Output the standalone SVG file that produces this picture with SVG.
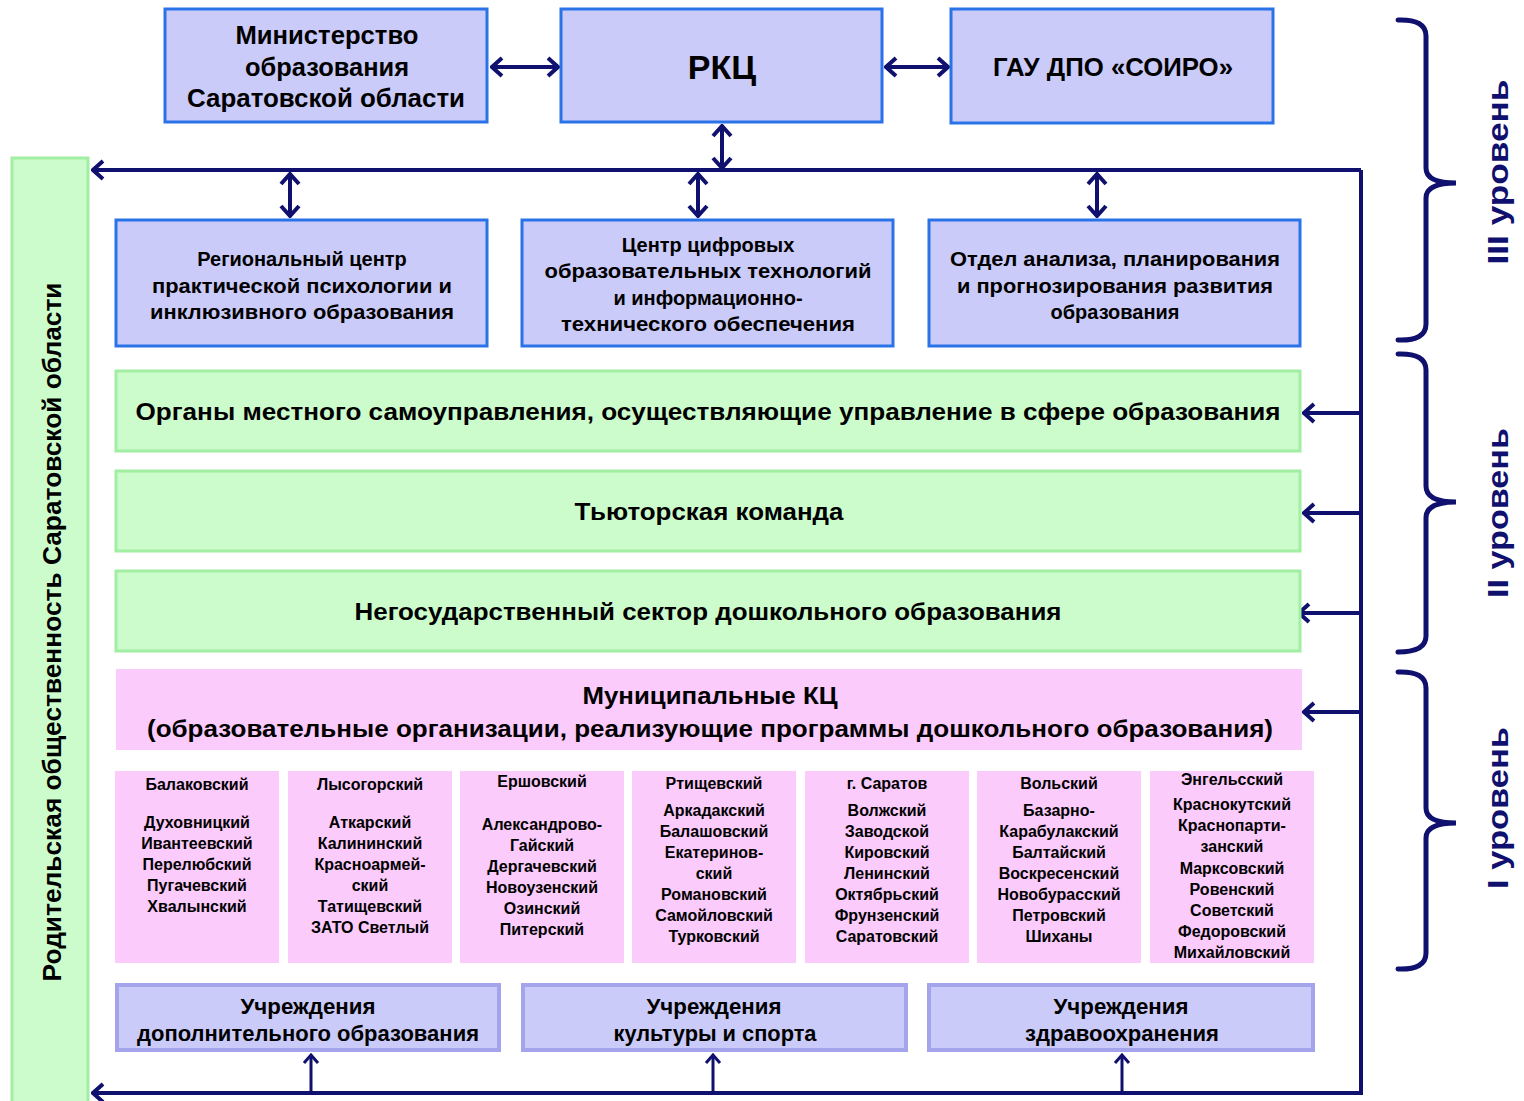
<svg xmlns="http://www.w3.org/2000/svg" width="1524" height="1101" viewBox="0 0 1524 1101">
<defs>
<style>
text{font-family:"Liberation Sans",Arial,sans-serif;font-weight:bold;fill:#000;text-anchor:middle;dominant-baseline:central}
.bb{fill:#cbcbf9;stroke:#2a72e8;stroke-width:3}
.lb{fill:#cbcbf9;stroke:#a4a4ec;stroke-width:4}
.gb{fill:#ccfccc;stroke:#a2eea2;stroke-width:3}
.pb{fill:#fbcbfb}
.ln{stroke:#10106e;stroke-width:4;fill:none}
.tn{stroke:#10106e;stroke-width:3;fill:none}
.br{stroke:#10106e;stroke-width:5;fill:none;stroke-linecap:round}
.t26{font-size:26px}
.t24{font-size:24px}
.t20{font-size:20px}
.t22{font-size:22px}
.t23{font-size:23px}
.d{font-size:16px}
.lv{fill:#10106e;font-size:30px}
</style>
<marker id="ah" viewBox="0 0 14 22" refX="12" refY="11" markerWidth="14" markerHeight="22" markerUnits="userSpaceOnUse" orient="auto-start-reverse">
<path d="M2,2 L12,11 L2,20" fill="none" stroke="#10106e" stroke-width="4" stroke-linejoin="miter"/>
</marker>
<marker id="as" viewBox="0 0 12 18" refX="10" refY="9" markerWidth="12" markerHeight="18" markerUnits="userSpaceOnUse" orient="auto-start-reverse">
<path d="M2,2 L10,9 L2,16" fill="none" stroke="#10106e" stroke-width="3"/>
</marker>
</defs>

<g id="parents">
<rect x="12" y="158" width="76" height="950" class="gb"/>
<text x="52" y="632" font-size="25" transform="rotate(-90 52 632)" textLength="699" lengthAdjust="spacingAndGlyphs">Родительская общественность Саратовской области</text>
</g>

<g id="connectors">
<path class="ln" d="M1361,170 L93,170" marker-end="url(#ah)"/>
<path class="ln" d="M1361,170 L1361,1093 L93,1093" marker-end="url(#ah)"/>
<line class="ln" x1="492" y1="67" x2="558" y2="67" marker-start="url(#ah)" marker-end="url(#ah)"/>
<line class="ln" x1="886" y1="67" x2="948" y2="67" marker-start="url(#ah)" marker-end="url(#ah)"/>
<line class="ln" x1="722" y1="126" x2="722" y2="168" marker-start="url(#ah)" marker-end="url(#ah)"/>
<line class="ln" x1="290" y1="174" x2="290" y2="216" marker-start="url(#ah)" marker-end="url(#ah)"/>
<line class="ln" x1="698" y1="174" x2="698" y2="216" marker-start="url(#ah)" marker-end="url(#ah)"/>
<line class="ln" x1="1097" y1="174" x2="1097" y2="216" marker-start="url(#ah)" marker-end="url(#ah)"/>
<line class="ln" x1="1361" y1="413" x2="1304" y2="413" marker-end="url(#ah)"/>
<line class="ln" x1="1361" y1="513" x2="1304" y2="513" marker-end="url(#ah)"/>
<line class="ln" x1="1361" y1="613" x2="1299" y2="613" marker-end="url(#ah)"/>
<line class="ln" x1="1361" y1="712" x2="1304" y2="712" marker-end="url(#ah)"/>
<line class="tn" x1="311" y1="1091" x2="311" y2="1055" marker-end="url(#as)"/>
<line class="tn" x1="713" y1="1091" x2="713" y2="1055" marker-end="url(#as)"/>
<line class="tn" x1="1122" y1="1091" x2="1122" y2="1055" marker-end="url(#as)"/>
</g>

<g id="ministry">
<rect x="165" y="9" width="322" height="113" class="bb"/>
<text x="327" y="35" class="t26" textLength="183" lengthAdjust="spacingAndGlyphs">Министерство</text>
<text x="327" y="67" class="t26" textLength="164" lengthAdjust="spacingAndGlyphs">образования</text>
<text x="326" y="98" class="t26" textLength="278" lengthAdjust="spacingAndGlyphs">Саратовской области</text>
</g>
<g id="rkc">
<rect x="561" y="9" width="321" height="113" class="bb"/>
<text x="722" y="67" font-size="34">РКЦ</text>
</g>
<g id="soiro">
<rect x="951" y="9" width="322" height="114" class="bb"/>
<text x="1113" y="67" class="t26" textLength="240" lengthAdjust="spacingAndGlyphs">ГАУ ДПО «СОИРО»</text>
</g>

<g id="psych">
<rect x="116" y="220" width="371" height="126" class="bb"/>
<text x="302" y="259" class="t20">Региональный центр</text>
<text x="302" y="286" class="t20" textLength="300" lengthAdjust="spacingAndGlyphs">практической психологии и</text>
<text x="302" y="312" class="t20" textLength="304" lengthAdjust="spacingAndGlyphs">инклюзивного образования</text>
</g>
<g id="digital">
<rect x="522" y="220" width="371" height="126" class="bb"/>
<text x="708" y="245" class="t20">Центр цифровых</text>
<text x="708" y="271" class="t20" textLength="327" lengthAdjust="spacingAndGlyphs">образовательных технологий</text>
<text x="708" y="298" class="t20">и информационно-</text>
<text x="708" y="324" class="t20" textLength="294" lengthAdjust="spacingAndGlyphs">технического обеспечения</text>
</g>
<g id="analysis">
<rect x="929" y="220" width="371" height="126" class="bb"/>
<text x="1115" y="259" class="t20" textLength="330" lengthAdjust="spacingAndGlyphs">Отдел анализа, планирования</text>
<text x="1115" y="286" class="t20" textLength="316" lengthAdjust="spacingAndGlyphs">и прогнозирования развития</text>
<text x="1115" y="312" class="t20">образования</text>
</g>

<g id="local">
<rect x="116" y="371" width="1184" height="80" class="gb"/>
<text x="708" y="412" class="t23" textLength="1145" lengthAdjust="spacingAndGlyphs">Органы местного самоуправления, осуществляющие управление  в сфере образования</text>
</g>
<g id="tutor">
<rect x="116" y="471" width="1184" height="80" class="gb"/>
<text x="709" y="512" class="t23" textLength="269" lengthAdjust="spacingAndGlyphs">Тьюторская команда</text>
</g>
<g id="private">
<rect x="116" y="571" width="1184" height="80" class="gb"/>
<text x="708" y="612" class="t23" textLength="707" lengthAdjust="spacingAndGlyphs">Негосударственный сектор дошкольного образования</text>
</g>
<g id="municipal">
<rect x="116" y="669" width="1186" height="81" class="pb"/>
<text x="710" y="696" class="t23" textLength="255" lengthAdjust="spacingAndGlyphs">Муниципальные КЦ</text>
<text x="710" y="729" class="t23" textLength="1126" lengthAdjust="spacingAndGlyphs">(образовательные организации, реализующие программы дошкольного образования)</text>
</g>

<g id="d1">
<rect x="115" y="771" width="164" height="192" class="pb"/>
<text x="197" y="784" class="d">Балаковский</text>
<text x="197" y="822" class="d">Духовницкий</text>
<text x="197" y="843" class="d">Ивантеевский</text>
<text x="197" y="864" class="d">Перелюбский</text>
<text x="197" y="885" class="d">Пугачевский</text>
<text x="197" y="906" class="d">Хвалынский</text>
</g>
<g id="d2">
<rect x="288" y="771" width="164" height="192" class="pb"/>
<text x="370" y="784" class="d">Лысогорский</text>
<text x="370" y="822" class="d">Аткарский</text>
<text x="370" y="843" class="d">Калининский</text>
<text x="370" y="864" class="d">Красноармей-</text>
<text x="370" y="885" class="d">ский</text>
<text x="370" y="906" class="d">Татищевский</text>
<text x="370" y="927" class="d">ЗАТО Светлый</text>
</g>
<g id="d3">
<rect x="460" y="771" width="164" height="192" class="pb"/>
<text x="542" y="781" class="d">Ершовский</text>
<text x="542" y="824" class="d">Александрово-</text>
<text x="542" y="845" class="d">Гайский</text>
<text x="542" y="866" class="d">Дергачевский</text>
<text x="542" y="887" class="d">Новоузенский</text>
<text x="542" y="908" class="d">Озинский</text>
<text x="542" y="929" class="d">Питерский</text>
</g>
<g id="d4">
<rect x="632" y="771" width="164" height="192" class="pb"/>
<text x="714" y="783" class="d">Ртищевский</text>
<text x="714" y="810" class="d">Аркадакский</text>
<text x="714" y="831" class="d">Балашовский</text>
<text x="714" y="852" class="d">Екатеринов-</text>
<text x="714" y="873" class="d">ский</text>
<text x="714" y="894" class="d">Романовский</text>
<text x="714" y="915" class="d">Самойловский</text>
<text x="714" y="936" class="d">Турковский</text>
</g>
<g id="d5">
<rect x="805" y="771" width="164" height="192" class="pb"/>
<text x="887" y="783" class="d">г. Саратов</text>
<text x="887" y="810" class="d">Волжский</text>
<text x="887" y="831" class="d">Заводской</text>
<text x="887" y="852" class="d">Кировский</text>
<text x="887" y="873" class="d">Ленинский</text>
<text x="887" y="894" class="d">Октябрьский</text>
<text x="887" y="915" class="d">Фрунзенский</text>
<text x="887" y="936" class="d">Саратовский</text>
</g>
<g id="d6">
<rect x="977" y="771" width="164" height="192" class="pb"/>
<text x="1059" y="783" class="d">Вольский</text>
<text x="1059" y="810" class="d">Базарно-</text>
<text x="1059" y="831" class="d">Карабулакский</text>
<text x="1059" y="852" class="d">Балтайский</text>
<text x="1059" y="873" class="d">Воскресенский</text>
<text x="1059" y="894" class="d">Новобурасский</text>
<text x="1059" y="915" class="d">Петровский</text>
<text x="1059" y="936" class="d">Шиханы</text>
</g>
<g id="d7">
<rect x="1150" y="771" width="164" height="192" class="pb"/>
<text x="1232" y="779" class="d">Энгельсский</text>
<text x="1232" y="804" class="d">Краснокутский</text>
<text x="1232" y="825" class="d">Краснопарти-</text>
<text x="1232" y="846" class="d">занский</text>
<text x="1232" y="868" class="d">Марксовский</text>
<text x="1232" y="889" class="d">Ровенский</text>
<text x="1232" y="910" class="d">Советский</text>
<text x="1232" y="931" class="d">Федоровский</text>
<text x="1232" y="952" class="d">Михайловский</text>
</g>

<g id="addedu">
<rect x="117" y="985" width="382" height="65" class="lb"/>
<text x="308" y="1006" class="t22" textLength="135" lengthAdjust="spacingAndGlyphs">Учреждения</text>
<text x="308" y="1033" class="t22" textLength="342" lengthAdjust="spacingAndGlyphs">дополнительного образования</text>
</g>
<g id="culture">
<rect x="523" y="985" width="383" height="65" class="lb"/>
<text x="714" y="1006" class="t22" textLength="135" lengthAdjust="spacingAndGlyphs">Учреждения</text>
<text x="715" y="1033" class="t22" textLength="203" lengthAdjust="spacingAndGlyphs">культуры и спорта</text>
</g>
<g id="health">
<rect x="929" y="985" width="384" height="65" class="lb"/>
<text x="1121" y="1006" class="t22" textLength="135" lengthAdjust="spacingAndGlyphs">Учреждения</text>
<text x="1122" y="1033" class="t22" textLength="194" lengthAdjust="spacingAndGlyphs">здравоохранения</text>
</g>

<g id="levels">
<path class="br" d="M1398,20 Q1426,19 1426,36 L1426,168 Q1426,183 1456,183 Q1426,183 1426,198 L1426,324 Q1426,341 1398,340"/>
<path class="br" d="M1398,354 Q1426,353 1426,370 L1426,486 Q1426,502 1456,502 Q1426,502 1426,518 L1426,636 Q1426,652 1398,652"/>
<path class="br" d="M1398,672 Q1426,671 1426,688 L1426,808 Q1426,823 1456,823 Q1426,823 1426,838 L1426,953 Q1426,970 1398,969"/>
<text class="lv" x="1497" y="172" transform="rotate(-90 1497 172)" textLength="185" lengthAdjust="spacingAndGlyphs">III уровень</text>
<text class="lv" x="1497" y="513" transform="rotate(-90 1497 513)" textLength="170" lengthAdjust="spacingAndGlyphs">II уровень</text>
<text class="lv" x="1497" y="808" transform="rotate(-90 1497 808)" textLength="162" lengthAdjust="spacingAndGlyphs">I уровень</text>
</g>
</svg>
